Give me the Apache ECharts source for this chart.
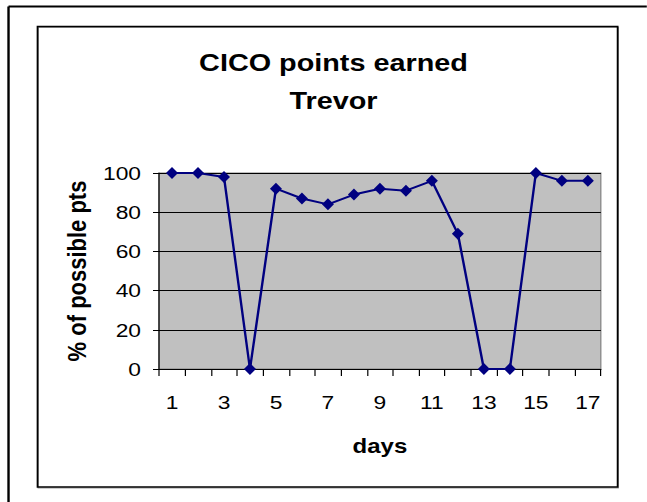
<!DOCTYPE html>
<html>
<head>
<meta charset="utf-8">
<script src="https://cdn.jsdelivr.net/npm/echarts@6/dist/echarts.min.js"></script>
<style>
html,body{margin:0;padding:0;background:#fff;overflow:hidden;}
#wrap{width:647px;height:502px;overflow:hidden;position:relative;}
#chart{width:539.17px;height:502px;transform:scaleX(1.2);transform-origin:0 0;}
</style>
</head>
<body>
<div id="wrap"><div id="chart"></div></div>
<script>
var titleText = 'CICO points earned\nTrevor';
var xAxisName = 'days';
var yAxisName = '% of possible pts';
var days = ['1','2','3','4','5','6','7','8','9','10','11','12','13','14','15','16','17'];
var pointsEarned = [100,100,98,0,92,87,84,89,92,91,96,69,0,0,100,96,96];
var yTicks = {min: 0, max: 100, interval: 20};

var chart = echarts.init(document.getElementById('chart'), null, {renderer: 'svg'});
var font = 'Liberation Sans, Arial, sans-serif';
chart.setOption({
  animation: false,
  backgroundColor: '#ffffff',
  graphic: [
    {type: 'line', shape: {x1: 7.1, y1: 6.5, x2: 560, y2: 6.5}, style: {stroke: '#000', lineWidth: 2}, silent: true},
    {type: 'line', shape: {x1: 7.1, y1: 6.5, x2: 7.1, y2: 510}, style: {stroke: '#000', lineWidth: 2}, silent: true},
    {type: 'rect', shape: {x: 31.8, y: 27.5, width: 483.4, height: 460.5}, style: {fill: 'none', stroke: '#9a9a9a', lineWidth: 1}, silent: true},
    {type: 'rect', shape: {x: 31.3, y: 26.5, width: 483.4, height: 460.5}, style: {fill: 'none', stroke: '#000', lineWidth: 1.5}, silent: true}
  ],
  title: {
    text: titleText,
    left: 272.9,
    top: 39,
    textAlign: 'center',
    textStyle: {fontFamily: font, fontWeight: 'bold', fontSize: 24, color: '#000', lineHeight: 38, align: 'center'}
  },
  grid: {left: 132.5, top: 173, right: 38.3, bottom: 133, show: true, backgroundColor: '#c0c0c0', borderColor: '#808080', borderWidth: 1},
  xAxis: {
    type: 'category',
    data: days,
    boundaryGap: true,
    name: xAxisName,
    nameLocation: 'middle',
    nameGap: 67,
    nameTextStyle: {fontFamily: font, fontWeight: 'bold', fontSize: 20, color: '#000'},
    axisLine: {show: true, lineStyle: {color: '#000', width: 1}},
    axisTick: {show: true, inside: false, length: 7, interval: 0, lineStyle: {color: '#000'}},
    axisLabel: {interval: 1, margin: 24, fontFamily: font, fontSize: 19, color: '#000'},
    splitLine: {show: false}
  },
  yAxis: {
    type: 'value',
    min: yTicks.min,
    max: yTicks.max,
    interval: yTicks.interval,
    name: yAxisName,
    nameLocation: 'middle',
    nameGap: 57.5,
    nameTextStyle: {fontFamily: font, fontWeight: 'bold', fontSize: 22, color: '#000'},
    axisLine: {show: true, lineStyle: {color: '#000', width: 1}},
    axisTick: {show: true, inside: false, length: 5, lineStyle: {color: '#000'}},
    axisLabel: {margin: 15, fontFamily: font, fontSize: 19, color: '#000'},
    splitLine: {show: true, lineStyle: {color: '#000', width: 1}}
  },
  series: [{
    type: 'line',
    data: pointsEarned,
    symbol: 'diamond',
    symbolSize: [10, 12],
    showSymbol: true,
    lineStyle: {color: '#000080', width: 2},
    itemStyle: {color: '#000080', borderWidth: 0},
    z: 5
  }]
});
</script>
</body>
</html>
